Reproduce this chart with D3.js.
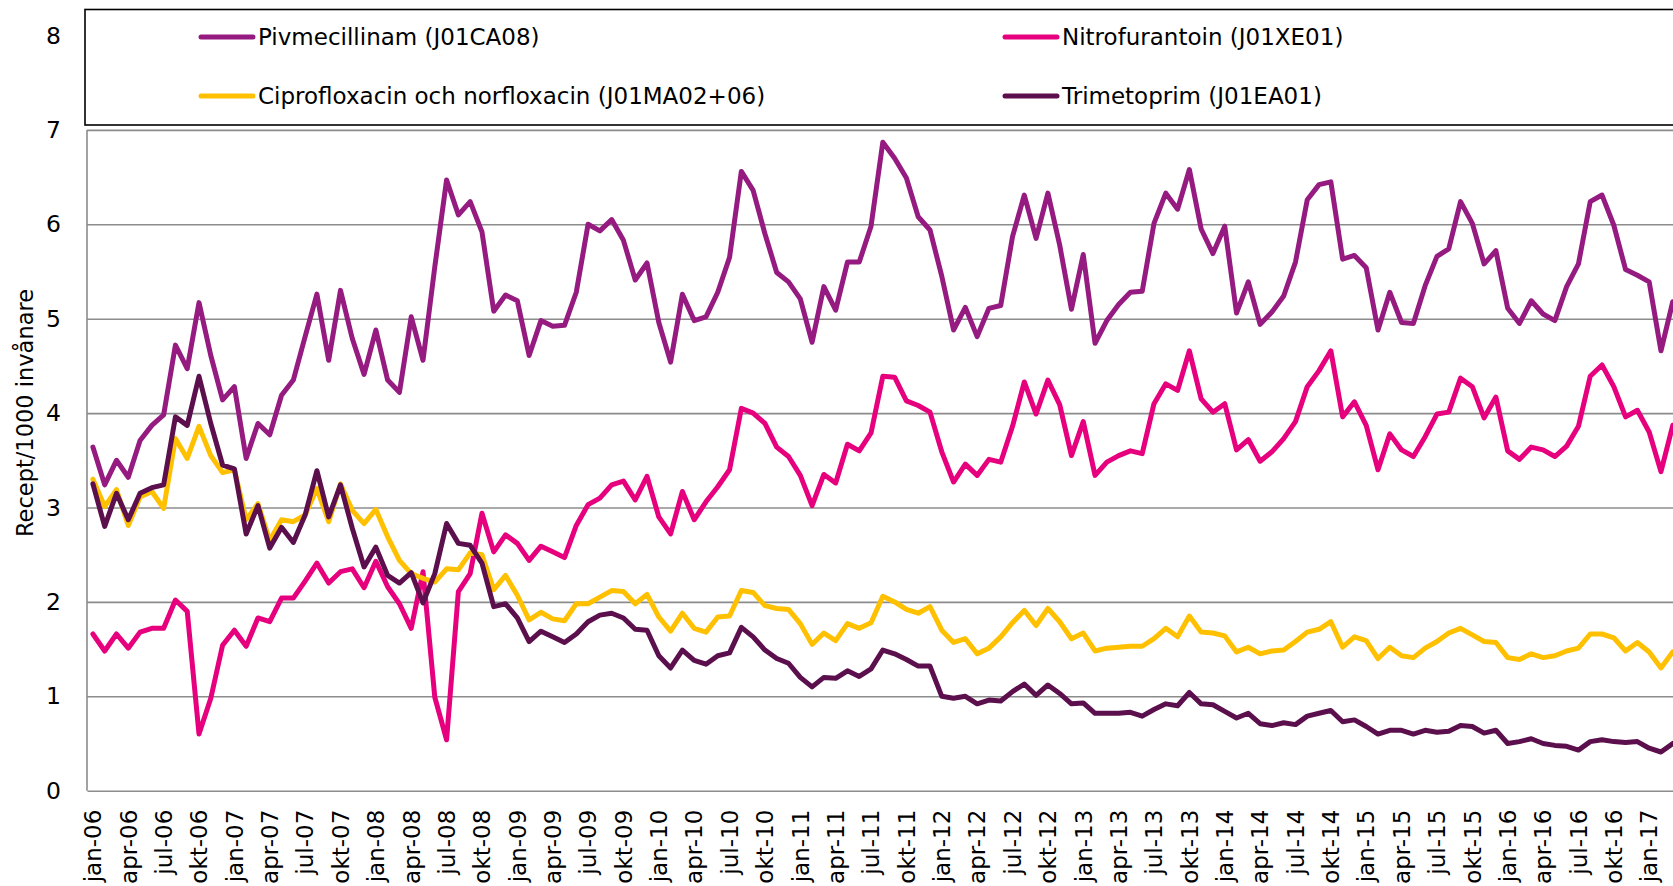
<!DOCTYPE html>
<html>
<head>
<meta charset="utf-8">
<script src="https://cdn.jsdelivr.net/npm/d3@7"></script>
<style>
  body { margin: 0; background: #fff; }
  svg { display: block; font-family: "DejaVu Sans", sans-serif; }
</style>
</head>
<body>
<svg width="1673" height="886"></svg>
<script>
// month categories jan-06 .. mar-17
var monthNames = ['jan','feb','mar','apr','maj','jun','jul','aug','sep','okt','nov','dec'];
var years = ['06','07','08','09','10','11','12','13','14','15','16','17'];
var months = [];
years.forEach(function(y) {
    monthNames.forEach(function(m) { months.push(m + '-' + y); });
});
months = months.slice(0, 135);

var yTicks = [0, 1, 2, 3, 4, 5, 6, 7, 8];

var pivmecillinam = [3.64,3.24,3.50,3.32,3.71,3.87,3.98,4.72,4.47,5.17,4.61,4.14,
    4.28,3.52,3.89,3.77,4.19,4.35,4.81,5.26,4.56,5.30,4.79,4.41,
    4.88,4.35,4.22,5.02,4.56,5.55,6.47,6.10,6.24,5.92,5.08,5.25,
    5.19,4.61,4.98,4.92,4.93,5.28,6.00,5.93,6.05,5.83,5.41,5.59,
    4.96,4.54,5.26,4.98,5.02,5.28,5.65,6.56,6.36,5.90,5.49,5.39,
    5.21,4.75,5.34,5.09,5.60,5.60,5.98,6.87,6.70,6.49,6.08,5.94,
    5.45,4.88,5.12,4.81,5.11,5.14,5.87,6.31,5.85,6.33,5.78,5.10,
    5.68,4.74,4.98,5.15,5.28,5.29,6.01,6.33,6.16,6.58,5.95,5.69,
    5.98,5.06,5.39,4.94,5.07,5.24,5.60,6.26,6.42,6.45,5.63,5.67,
    5.54,4.88,5.28,4.96,4.95,5.35,5.66,5.74,6.24,6.01,5.58,5.72,
    5.11,4.95,5.19,5.05,4.98,5.34,5.58,6.24,6.31,5.99,5.52,5.46,
    5.39,4.66,5.18];

var nitrofurantoin = [1.66,1.48,1.66,1.51,1.68,1.72,1.72,2.02,1.90,0.60,0.98,1.54,
    1.70,1.53,1.83,1.79,2.04,2.04,2.22,2.41,2.20,2.32,2.35,2.15,
    2.43,2.16,1.98,1.72,2.32,0.99,0.54,2.11,2.30,2.94,2.53,2.71,
    2.62,2.44,2.59,2.53,2.47,2.81,3.03,3.10,3.24,3.28,3.08,3.33,
    2.90,2.72,3.17,2.87,3.06,3.22,3.40,4.05,4.00,3.89,3.64,3.54,
    3.34,3.02,3.35,3.26,3.67,3.60,3.79,4.39,4.38,4.13,4.08,4.01,
    3.59,3.27,3.46,3.34,3.51,3.48,3.86,4.33,3.99,4.35,4.09,3.55,
    3.91,3.34,3.48,3.55,3.60,3.57,4.10,4.31,4.24,4.66,4.15,4.01,
    4.10,3.61,3.72,3.49,3.59,3.73,3.91,4.28,4.45,4.66,3.96,4.12,
    3.87,3.40,3.78,3.61,3.54,3.75,3.99,4.01,4.37,4.28,3.95,4.17,
    3.60,3.51,3.64,3.61,3.54,3.65,3.86,4.39,4.51,4.28,3.96,4.03,
    3.80,3.38,3.87];

var ciprofloxacin = [3.30,3.01,3.19,2.81,3.11,3.17,2.99,3.73,3.52,3.86,3.55,3.37,
    3.40,2.87,3.04,2.65,2.87,2.85,2.92,3.20,2.85,3.25,2.97,2.83,
    2.98,2.69,2.44,2.30,2.25,2.21,2.35,2.34,2.52,2.50,2.13,2.28,
    2.07,1.81,1.89,1.82,1.80,1.98,1.98,2.05,2.12,2.11,1.98,2.08,
    1.84,1.69,1.88,1.72,1.68,1.84,1.85,2.12,2.10,1.96,1.93,1.92,
    1.77,1.55,1.67,1.59,1.77,1.72,1.78,2.06,2.00,1.92,1.88,1.95,
    1.70,1.57,1.61,1.45,1.51,1.63,1.78,1.91,1.75,1.93,1.79,1.61,
    1.67,1.48,1.51,1.52,1.53,1.53,1.61,1.72,1.63,1.85,1.68,1.67,
    1.64,1.47,1.52,1.45,1.48,1.49,1.58,1.68,1.71,1.79,1.52,1.63,
    1.59,1.40,1.52,1.43,1.41,1.51,1.58,1.67,1.72,1.65,1.58,1.57,
    1.41,1.39,1.45,1.41,1.43,1.48,1.51,1.66,1.66,1.62,1.48,1.57,
    1.47,1.30,1.47];

var trimetoprim = [3.25,2.80,3.15,2.87,3.15,3.21,3.24,3.96,3.87,4.39,3.89,3.45,
    3.41,2.72,3.02,2.57,2.79,2.63,2.92,3.39,2.90,3.24,2.78,2.37,
    2.58,2.28,2.20,2.31,1.99,2.30,2.83,2.62,2.60,2.41,1.95,1.98,
    1.83,1.58,1.69,1.63,1.57,1.66,1.79,1.86,1.88,1.83,1.71,1.70,
    1.43,1.30,1.49,1.38,1.34,1.43,1.46,1.73,1.63,1.49,1.40,1.35,
    1.20,1.10,1.20,1.19,1.27,1.21,1.29,1.49,1.45,1.39,1.32,1.32,
    1.00,0.98,1.00,0.92,0.96,0.95,1.05,1.13,1.01,1.12,1.03,0.92,
    0.93,0.82,0.82,0.82,0.83,0.79,0.86,0.92,0.90,1.04,0.92,0.91,
    0.84,0.77,0.82,0.71,0.69,0.72,0.70,0.79,0.82,0.85,0.73,0.75,
    0.68,0.60,0.64,0.64,0.60,0.64,0.62,0.63,0.69,0.68,0.61,0.64,
    0.50,0.52,0.55,0.50,0.48,0.47,0.43,0.52,0.54,0.52,0.51,0.52,
    0.45,0.41,0.50];

var seriesNames = ['Pivmecillinam (J01CA08)', 'Nitrofurantoin (J01XE01)',
    'Ciprofloxacin och norfloxacin (J01MA02+06)', 'Trimetoprim (J01EA01)'];
var seriesColors = ['#951b81', '#e6007e', '#ffc000', '#5c0f4d'];
var seriesData = [pivmecillinam, nitrofurantoin, ciprofloxacin, trimetoprim];

var svg = d3.select('svg');

var plotLeft = 87, plotBottom = 790.7, plotTop = 35.5;
var step = 11.79;

var scaleX = d3.scaleBand().domain(months).range([plotLeft, plotLeft + months.length * step]);
var scaleY = d3.scaleLinear().domain([0, 8]).range([plotBottom, plotTop]);

// gridlines
svg.append('g')
    .attr('transform', 'translate(' + plotLeft + ',0)')
    .call(d3.axisLeft(scaleY).tickValues(yTicks.slice(1)).tickSize(-1700).tickFormat(''))
    .call(function(g) {
        g.select('.domain').remove();
        g.selectAll('line').attr('stroke', '#8c8c8c').attr('stroke-width', 1.6);
    });

// y axis labels
svg.append('g')
    .attr('transform', 'translate(' + plotLeft + ',0)')
    .call(d3.axisLeft(scaleY).tickValues(yTicks).tickSize(0).tickPadding(26))
    .call(function(g) {
        g.select('.domain').remove();
        g.selectAll('text').attr('font-size', 23.5).attr('fill', '#000')
            .attr('font-family', 'DejaVu Sans');
    });

// y axis line
svg.append('line')
    .attr('x1', plotLeft).attr('x2', plotLeft)
    .attr('y1', scaleY(7)).attr('y2', plotBottom)
    .attr('stroke', '#8c8c8c').attr('stroke-width', 1.6);

// x axis
svg.append('g')
    .attr('transform', 'translate(0,' + plotBottom + ')')
    .call(d3.axisBottom(scaleX)
        .tickValues(months.filter(function(d, i) { return i % 3 === 0; }))
        .tickSize(0))
    .call(function(g) {
        g.select('.domain').attr('stroke', '#8c8c8c').attr('stroke-width', 1.6);
        g.selectAll('text')
            .attr('font-size', 23)
            .attr('font-family', 'DejaVu Sans')
            .attr('fill', '#000')
            .attr('text-anchor', 'end')
            .attr('transform', 'rotate(-90)')
            .attr('x', -19)
            .attr('y', 0)
            .attr('dy', '0.36em');
    });

// lines
var line = d3.line()
    .x(function(d, i) { return scaleX(months[i]) + scaleX.bandwidth() / 2; })
    .y(function(d) { return scaleY(d); });

seriesData.forEach(function(s, k) {
    svg.append('path')
        .datum(s)
        .attr('d', line)
        .attr('fill', 'none')
        .attr('stroke', seriesColors[k])
        .attr('stroke-width', 5)
        .attr('stroke-linejoin', 'round')
        .attr('stroke-linecap', 'round');
});

// y title
svg.append('text')
    .attr('transform', 'translate(25,413) rotate(-90)')
    .attr('text-anchor', 'middle')
    .attr('dy', '0.35em')
    .attr('font-size', 22.5)
    .text('Recept/1000 invånare');

// legend
var legend = svg.append('g');
legend.append('rect')
    .attr('x', 85).attr('y', 9.5)
    .attr('width', 1700).attr('height', 115.5)
    .attr('fill', '#fff')
    .attr('stroke', '#000').attr('stroke-width', 1.6);

var legX = [201, 1005], legY = [37, 96];
seriesNames.forEach(function(name, k) {
    var x = legX[k % 2], y = legY[Math.floor(k / 2)];
    legend.append('line')
        .attr('x1', x).attr('x2', x + 52)
        .attr('y1', y).attr('y2', y)
        .attr('stroke', seriesColors[k]).attr('stroke-width', 5)
        .attr('stroke-linecap', 'round');
    legend.append('text')
        .attr('x', x + 57).attr('y', y)
        .attr('dy', '0.35em')
        .attr('font-size', 23)
        .text(name);
});
</script>
</body>
</html>
